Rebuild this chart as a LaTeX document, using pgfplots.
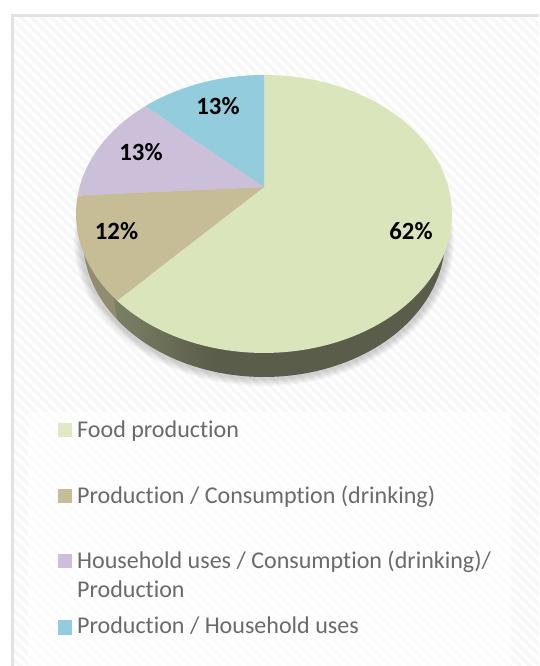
\documentclass[border=0pt]{standalone}
\usepackage{pgfplots}
\pgfplotsset{compat=1.18}
\usepackage{fontspec}
\setmainfont{Carlito}[Ligatures=NoCommon]
\definecolor{cFood}{HTML}{DAE5BC}
\definecolor{cCons}{HTML}{C6BC96}
\definecolor{cHome}{HTML}{CCBFDA}
\definecolor{cProd}{HTML}{93CDDD}
\definecolor{cText}{HTML}{6A6A6A}
\definecolor{cStripe}{HTML}{F7F7F7}
\definecolor{cFrame}{HTML}{E2E2E2}
\definecolor{wA}{HTML}{8F9C7C}
\definecolor{wB}{HTML}{757A60}
\definecolor{wC}{HTML}{5A5D49}
\definecolor{wTan}{HTML}{918C6E}
% side wall of the disc, light where it faces the viewer's left
\pgfdeclarehorizontalshading{wallfood}{100bp}{
  color(0bp)=(wA);
  color(10bp)=(wA);
  color(28bp)=(wB);
  color(40bp)=(wC);
  color(100bp)=(wC)}
% share of each slice in percent, clockwise from twelve o'clock
\pgfmathsetmacro{\sA}{62}
\pgfmathsetmacro{\sB}{12}
\pgfmathsetmacro{\sC}{13}
\pgfmathsetmacro{\sD}{13}
% rim of the tilted disc: angle (clockwise from top) to image position
\pgfmathdeclarefunction{rimx}{1}{\pgfmathparse{264+184.4*sin(#1)/(1+0.194*cos(#1))}}
\pgfmathdeclarefunction{rimy}{1}{\pgfmathparse{214-(139*cos(#1)+27)/(1+0.194*cos(#1))}}
\begin{document}
\begin{tikzpicture}
\begin{axis}[
  x=1pt, y=1pt, y dir=reverse,
  xmin=0, xmax=539, ymin=0, ymax=666,
  hide axis, clip=true,
]
% panel with its fine diagonal texture
\fill[white] (axis cs:0,0) rectangle (axis cs:539,666);
\begin{scope}
  \clip (axis cs:11,15) rectangle (axis cs:539,666);
  \pgfplotsinvokeforeach{-666,-656,...,534}{
    \draw[cStripe, line width=3.4pt] (axis cs:#1,0) -- (axis cs:#1+680,680);
  }
\end{scope}
\draw[cFrame, line width=3pt] (axis cs:12,666) -- (axis cs:12,16) -- (axis cs:539,16);
\fill[white, opacity=0.72] (axis cs:28,412) rectangle (axis cs:511,666);

% soft shadow beneath the disc
\pgfplotsinvokeforeach{7,5.5,4,2.5,1}{
  \addplot[draw=none, fill=black, fill opacity=0.035, domain=0:360, samples=120, forget plot]
    ({264+(183+#1)*cos(x)},{241+(138+#1)*sin(x)});
}
% side wall below the tan and the green slice; its lower edge is a little
% narrower than the top face because of the perspective
\addplot[draw=none, fill=wTan, domain=144:180, samples=30, forget plot]
  ({264+181*cos(x)},{239+138*sin(x)}) -- (axis cs:120,280) -- cycle;
\addplot[draw=none, shading=wallfood, domain=0:144, samples=70, forget plot]
  ({264+181*cos(x)},{239+138*sin(x)}) -- (axis cs:113,295) -- (axis cs:264,214) -- cycle;

% slices
\pgfmathsetmacro{\tA}{3.6*\sA}
\pgfmathsetmacro{\tB}{\tA+3.6*\sB}
\pgfmathsetmacro{\tC}{\tB+3.6*\sC}
\pgfmathsetmacro{\tD}{\tC+3.6*\sD}
\addplot[draw=none, fill=cFood, domain=0:\tA, samples=120, forget plot]
  ({rimx(x)},{rimy(x)}) -- (axis cs:264,187) -- cycle;
\addplot[draw=none, fill=cCons, domain=\tA:\tB, samples=30, forget plot]
  ({rimx(x)},{rimy(x)}) -- (axis cs:264,187) -- cycle;
\addplot[draw=none, fill=cHome, domain=\tB:\tC, samples=30, forget plot]
  ({rimx(x)},{rimy(x)}) -- (axis cs:264,187) -- cycle;
\addplot[draw=none, fill=cProd, domain=\tC:\tD, samples=30, forget plot]
  ({rimx(x)},{rimy(x)}) -- (axis cs:264,187) -- cycle;

% value labels
\tikzset{valtext/.style={text=black, font=\fontsize{24.8}{24.8}\selectfont\bfseries}}
\node[valtext] at (axis cs:411,231) {62\%};
\node[valtext] at (axis cs:116.5,231) {12\%};
\node[valtext] at (axis cs:141,152) {13\%};
\node[valtext] at (axis cs:218,106) {13\%};

% key
\fill[cFood!85!white] (axis cs:58,423) rectangle (axis cs:72,437);
\fill[cCons] (axis cs:58,489) rectangle (axis cs:72,503);
\fill[cHome] (axis cs:58,554) rectangle (axis cs:72,568);
\fill[cProd] (axis cs:58,620) rectangle (axis cs:72,635);
\tikzset{keytext/.style={anchor=base west, inner sep=0pt, text=cText, font=\fontsize{24.05}{24.05}\selectfont}}
\node[keytext] at (axis cs:77,437) {Food production};
\node[keytext] at (axis cs:77,503) {Production / Consumption (drinking)};
\node[keytext] at (axis cs:77,568) {Household uses / Consumption (drinking)/};
\node[keytext] at (axis cs:77,597) {Production};
\node[keytext] at (axis cs:77,633) {Production / Household uses};
\end{axis}
\end{tikzpicture}
\end{document}
